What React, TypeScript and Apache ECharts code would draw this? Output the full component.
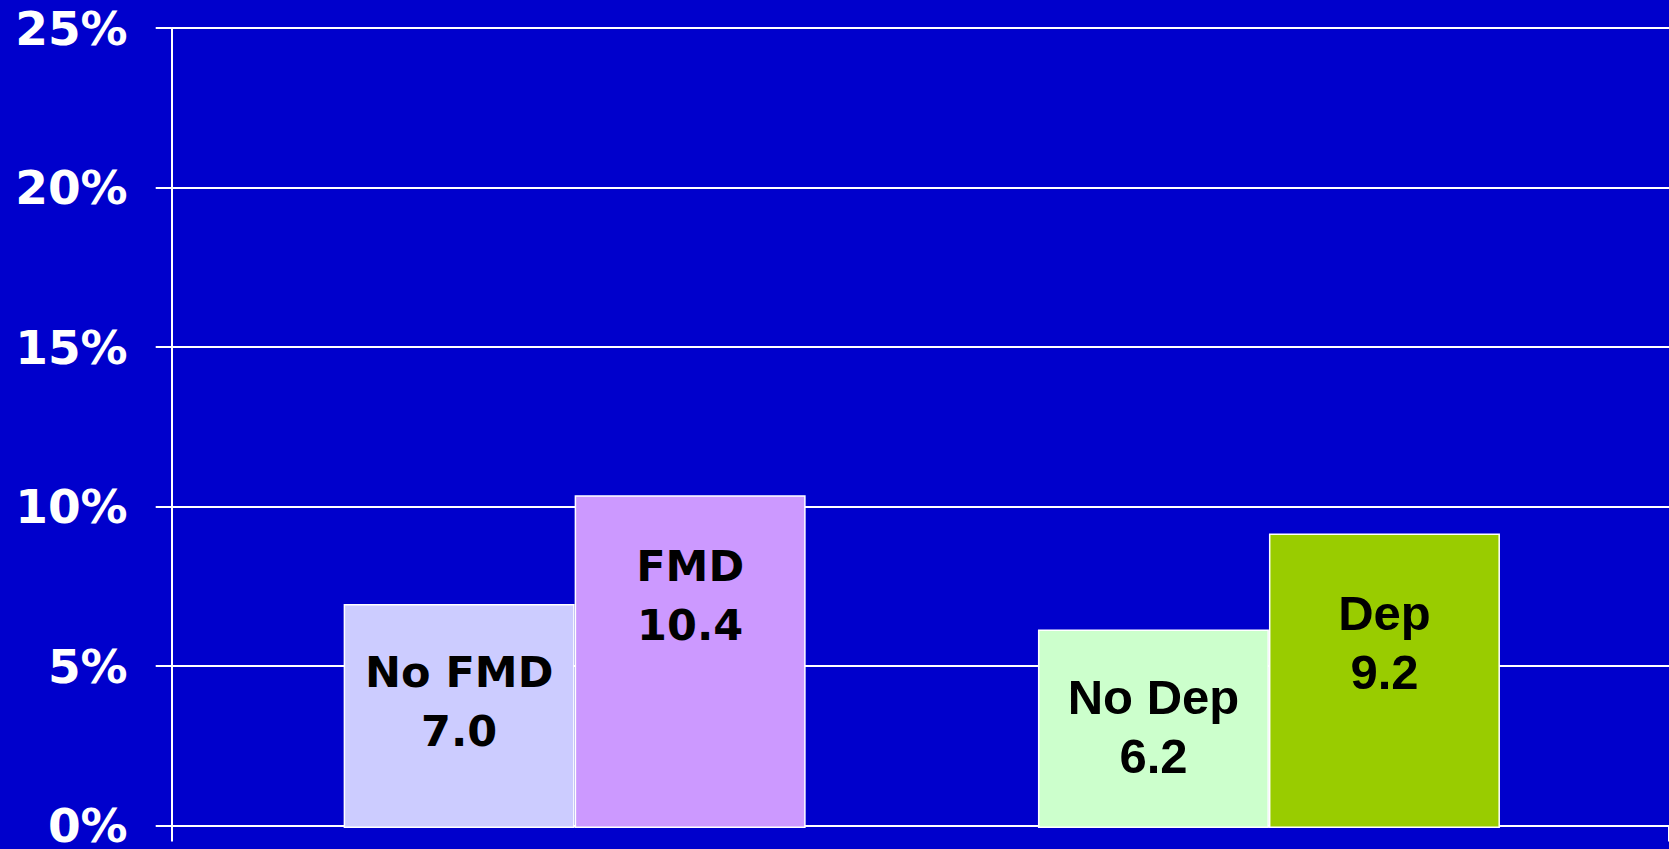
import React, { useEffect, useRef } from "react";
import * as echarts from "echarts";

const categories = ["FMD", "Depression"];
const lowLabels = ["No FMD", "No Dep"];
const lowValues = [7.0, 6.2];
const highLabels = ["FMD", "Dep"];
const highValues = [10.4, 9.2];
const lowColors = ["#CCCCFF", "#CCFFCC"];
const highColors = ["#CC99FF", "#99CC00"];
const labelFonts = ["DejaVu Sans", "Liberation Sans"];
const labelSizes = [43, 49];
const yTicks = [0, 5, 10, 15, 20, 25];

export default function App() {
  const ref = useRef<HTMLDivElement>(null);

  useEffect(() => {
    if (!ref.current) return;
    const chart = echarts.init(ref.current, null, { renderer: "svg" });

    const mkData = (labels: string[], values: number[], colors: string[], dist: number[]) =>
      values.map((v, i) => ({
        value: v,
        itemStyle: { color: colors[i], borderColor: "#FFFFFF", borderWidth: 1.5 },
        label: {
          show: true,
          position: "insideTop",
          distance: dist[i],
          formatter: `${labels[i]}\n${v.toFixed(1)}`,
          color: "#000000",
          fontWeight: "bold",
          fontFamily: labelFonts[i],
          fontSize: labelSizes[i],
          lineHeight: 59,
        },
      }));

    chart.setOption({
      animation: false,
      backgroundColor: "#0000CC",
      grid: [
        { left: 171.7, right: -30, top: 28, bottom: 21, containLabel: false },
        { left: 227.5, right: 52.9, top: 28, bottom: 21, containLabel: false },
      ],
      xAxis: [
        {
          type: "value",
          gridIndex: 0,
          min: 0,
          max: 1,
          interval: 1,
          axisLine: { show: true, lineStyle: { color: "#FFFFFF", width: 2 } },
          axisTick: { show: true, length: 16, lineStyle: { color: "#FFFFFF", width: 2 } },
          axisLabel: { show: false },
          splitLine: { show: false },
        },
        {
          type: "category",
          gridIndex: 1,
          data: categories,
          axisLine: { show: false },
          axisTick: { show: false },
          axisLabel: { show: false },
          splitLine: { show: false },
        },
      ],
      yAxis: [
        {
          type: "value",
          gridIndex: 0,
          min: yTicks[0],
          max: yTicks[yTicks.length - 1],
          interval: 5,
          axisLine: { show: true, lineStyle: { color: "#FFFFFF", width: 2 } },
          axisTick: { show: true, length: 16, lineStyle: { color: "#FFFFFF", width: 2 } },
          axisLabel: {
            formatter: "{value}%",
            color: "#FFFFFF",
            fontFamily: "DejaVu Sans",
            fontWeight: "bold",
            fontSize: 47,
            margin: 44,
          },
          splitLine: { show: true, lineStyle: { color: "#FFFFFF", width: 2 } },
        },
        {
          type: "value",
          gridIndex: 1,
          min: yTicks[0],
          max: yTicks[yTicks.length - 1],
          interval: 5,
          show: false,
          splitLine: { show: false },
        },
      ],
      series: [
        {
          type: "bar",
          xAxisIndex: 1,
          yAxisIndex: 1,
          barWidth: 231,
          barGap: "0%",
          data: mkData(lowLabels, lowValues, lowColors, [38, 38]),
          z: 3,
        },
        {
          type: "bar",
          xAxisIndex: 1,
          yAxisIndex: 1,
          barWidth: 231,
          barGap: "0%",
          data: mkData(highLabels, highValues, highColors, [41, 50]),
          z: 3,
        },
      ],
    });

    return () => chart.dispose();
  }, []);

  return (
    <div
      ref={ref}
      style={{ position: "fixed", left: 0, top: 0, width: 1669, height: 849 }}
    />
  );
}
